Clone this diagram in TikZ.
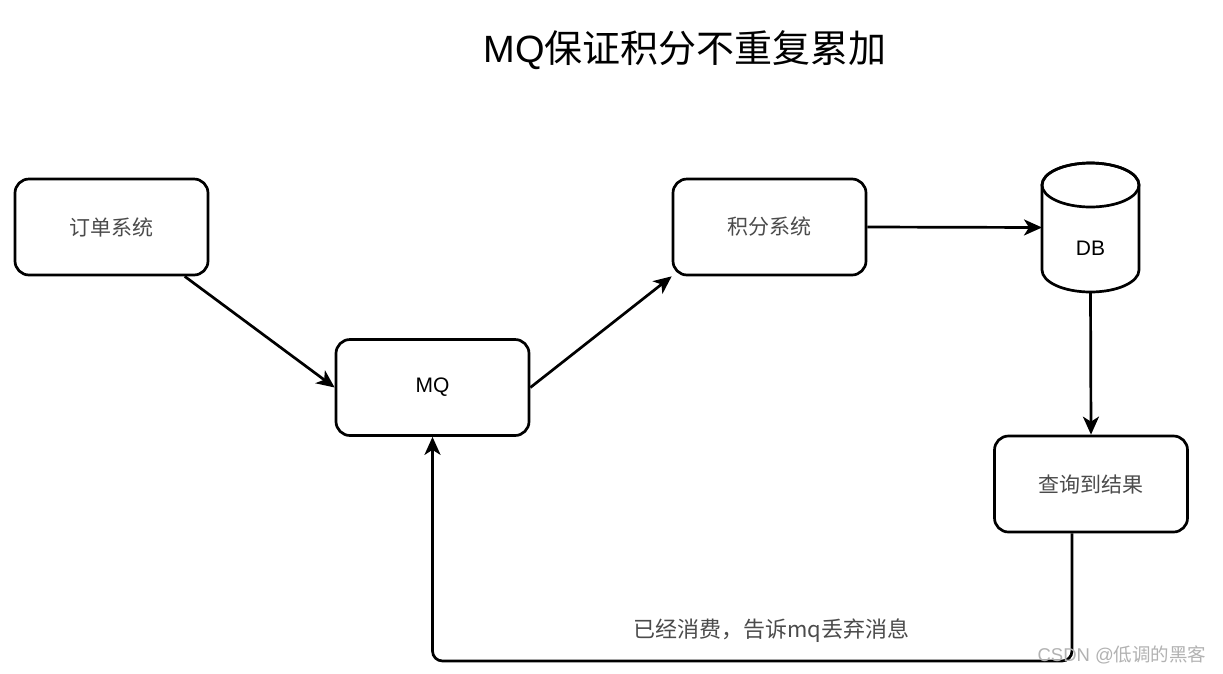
\documentclass[tikz,border=0pt]{standalone}
\usepackage{fontspec}
\setmainfont{Liberation Sans}
\newfontfamily\cjk{Noto Sans CJK SC}
\usetikzlibrary{arrows.meta}
\definecolor{lblgray}{RGB}{75,75,75}
\begin{document}
\begin{tikzpicture}[x=1pt,y=-1pt,
  box/.style={draw, line width=2.7pt, rounded corners=14pt, minimum width=193pt, minimum height=96pt, inner sep=0pt, font=\fontsize{21}{25}\selectfont},
  arr/.style={line width=2.7pt, -{Stealth[length=18pt,width=16pt,inset=5pt]}},
  cjklbl/.style={text=lblgray, font=\cjk\fontsize{21}{25}\selectfont},
  latlbl/.style={text=black, font=\fontsize{21}{25}\selectfont}]
\useasboundingbox[fill=white] (0,0) rectangle (1223,673);
% title
\node (title) at (685,50) {\fontsize{38}{45}\selectfont MQ{\cjk 保证积分不重复累加}};
% boxes
\node[box, cjklbl] (ord) at (111.5,227) {订单系统};
\node[box, latlbl] (mq) at (432.5,387.5) {MQ};
\node[box, cjklbl] (jf) at (769.5,227) {积分系统};
\node[box, cjklbl] (cx) at (1091,484) {查询到结果};
% DB cylinder
\node[minimum width=97pt, minimum height=129pt, inner sep=0pt, outer sep=0pt] (db) at (1090.5,227.5) {};
\draw[line width=2.7pt, fill=white] ([yshift=-22pt]db.north west) -- ([yshift=22pt]db.south west)
  arc[start angle=180, end angle=360, x radius=48.5pt, y radius=22pt]
  -- ([yshift=-22pt]db.north east)
  arc[start angle=0, end angle=180, x radius=48.5pt, y radius=22pt] -- cycle;
\draw[line width=2.7pt] ([yshift=-22pt]db.north) ellipse[x radius=48.5pt, y radius=22pt];
\node[latlbl] (dbl) at (1090.5,248) {DB};
% connectors
\draw[arr] (ord.-34) -- (mq.west);
\draw[arr] (mq.east) -- (jf.south west);
\draw[arr] (jf.east) -- (db.west);
\draw[arr] (db.south) -- (cx.north);
\coordinate (turn) at (1072,661);
\draw[arr, rounded corners=10pt] ([xshift=-19pt]cx.south) -- (turn) -| (mq.south);
\node[cjklbl, font=\cjk\fontsize{22}{26}\selectfont] (lbl) at (771,631) {已经消费，告诉mq丢弃消息};
% watermark
\node[text=gray!60, font=\fontsize{18.5}{22}\selectfont] (wm) at (1122,655) {CSDN @{\cjk 低调的黑客}};
\end{tikzpicture}
\end{document}
